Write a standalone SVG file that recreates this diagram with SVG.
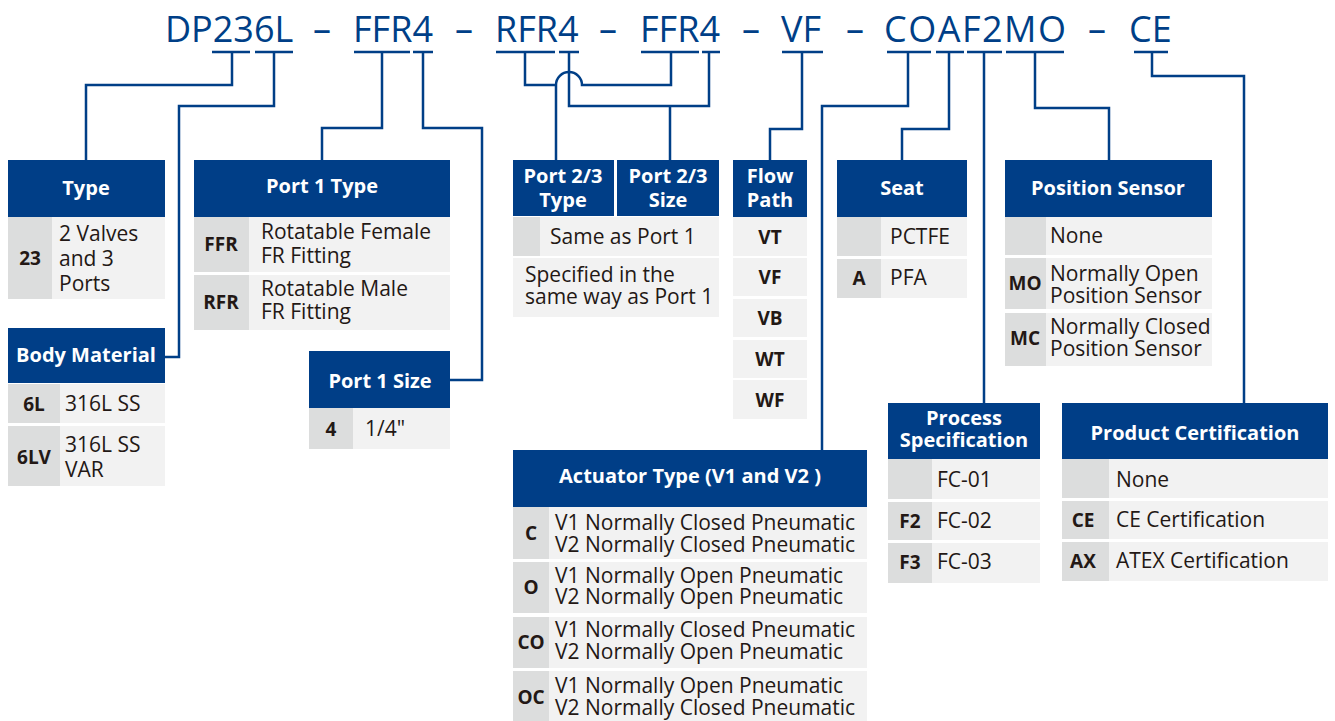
<svg xmlns="http://www.w3.org/2000/svg" width="1335" height="721" viewBox="0 0 1335 721">
<style>
.hd{fill:#003e87}
.rw{fill:#f2f2f2}
.cd{fill:#dcdddd}
.ht{font-family:"Open Sans","Noto Sans",sans-serif;font-weight:bold;font-size:20px;fill:#ffffff;text-anchor:middle}
.ct{font-family:"Open Sans","Noto Sans",sans-serif;font-weight:bold;font-size:19px;fill:#231815;text-anchor:middle}
.tx{font-family:"Open Sans","Noto Sans",sans-serif;font-size:21px;fill:#231815}
.ti{font-family:"Open Sans","Noto Sans",sans-serif;font-size:36px;fill:#003f87}
.ln{fill:none;stroke:#003f87;stroke-width:2.5}
</style>
<rect width="1335" height="721" fill="#ffffff"/>
<g id="title">
<text class="ti" x="165" y="42">DP236L</text>
<text class="ti" x="313" y="42">–</text>
<text class="ti" x="353" y="42">FFR4</text>
<text class="ti" x="455" y="42">–</text>
<text class="ti" x="495" y="42">RFR4</text>
<text class="ti" x="599" y="42">–</text>
<text class="ti" x="640" y="42">FFR4</text>
<text class="ti" x="742" y="42">–</text>
<text class="ti" x="781" y="42">VF</text>
<text class="ti" x="846" y="42">–</text>
<text class="ti" x="884" y="42" textLength="182">COAF2MO</text>
<text class="ti" x="1088" y="42">–</text>
<text class="ti" x="1129" y="42">CE</text>
</g>
<g id="connectors" class="ln">
<path d="M212,52H250M232,52V85H86V160"/>
<path d="M255,52H293M274,52V106H179V357H165"/>
<path d="M354,52H410M382,52V128H322V160"/>
<path d="M413,52H433M423,52V128H482V380H450"/>
<path d="M496,52H555M641,52H699M525,52V85H556A13,13 0 0 1 582,85H671V52M556,85V160"/>
<path d="M559,52H579M702,52H720M569,52V106H709V52M670,106V160"/>
<path d="M782,52H823M802,52V129H770V160"/>
<path d="M887,52H931M908,52V106H822V450"/>
<path d="M936,52H964M949,52V129H902V160"/>
<path d="M967,52H1002M984,52V403"/>
<path d="M1006,52H1064M1035,52V108H1109V160"/>
<path d="M1134,52H1168M1152,52V76H1244V403"/>
</g>
<g id="type">
<rect class="hd" x="8" y="160" width="157" height="57"/>
<rect class="rw" x="8" y="217" width="157" height="82"/>
<rect class="cd" x="8" y="217" width="44" height="82"/>
<text class="ht" x="86" y="195">Type</text>
<text class="ct" x="30" y="265">23</text>
<text class="tx" x="59" y="241">2 Valves<tspan x="59" dy="25">and 3</tspan><tspan x="59" dy="25">Ports</tspan></text>
</g>
<g id="body-material">
<rect class="hd" x="8" y="328" width="157" height="55"/>
<rect class="rw" x="8" y="384" width="157" height="39"/>
<rect class="cd" x="8" y="384" width="52" height="39"/>
<rect class="rw" x="8" y="426" width="157" height="60"/>
<rect class="cd" x="8" y="426" width="52" height="60"/>
<text class="ht" x="86" y="362">Body Material</text>
<text class="ct" x="34" y="411">6L</text>
<text class="tx" x="65" y="411">316L SS</text>
<text class="ct" x="34" y="464">6LV</text>
<text class="tx" x="65" y="452">316L SS<tspan x="65" dy="25">VAR</tspan></text>
</g>
<g id="port1-type">
<rect class="hd" x="194" y="160" width="256" height="57"/>
<rect class="rw" x="194" y="217" width="256" height="55"/>
<rect class="cd" x="194" y="217" width="55" height="55"/>
<rect class="rw" x="194" y="275" width="256" height="55"/>
<rect class="cd" x="194" y="275" width="55" height="55"/>
<text class="ht" x="322" y="193">Port 1 Type</text>
<text class="ct" x="221" y="251">FFR</text>
<text class="tx" x="261" y="239">Rotatable Female<tspan x="261" dy="24">FR Fitting</tspan></text>
<text class="ct" x="221" y="309">RFR</text>
<text class="tx" x="261" y="296">Rotatable Male<tspan x="261" dy="23">FR Fitting</tspan></text>
</g>
<g id="port1-size">
<rect class="hd" x="309" y="351" width="141" height="57"/>
<rect class="rw" x="309" y="408" width="141" height="41"/>
<rect class="cd" x="309" y="408" width="44" height="41"/>
<text class="ht" x="380" y="388">Port 1 Size</text>
<text class="ct" x="331" y="436">4</text>
<text class="tx" x="365" y="436">1/4"</text>
</g>
<g id="port23">
<rect class="hd" x="513" y="160" width="101" height="56"/>
<rect class="hd" x="617" y="160" width="102" height="56"/>
<text class="ht" x="563" y="183">Port 2/3<tspan x="563" dy="24">Type</tspan></text>
<text class="ht" x="668" y="183">Port 2/3<tspan x="668" dy="24">Size</tspan></text>
<rect class="rw" x="513" y="217" width="206" height="39"/>
<rect class="cd" x="513" y="217" width="27" height="39"/>
<text class="tx" x="550" y="244">Same as Port 1</text>
<rect class="rw" x="513" y="258" width="206" height="59"/>
<text class="tx" x="525" y="282">Specified in the<tspan x="525" dy="22">same way as Port 1</tspan></text>
</g>
<g id="flow-path">
<rect class="hd" x="733" y="160" width="74" height="57"/>
<text class="ht" x="770" y="183">Flow<tspan x="770" dy="24">Path</tspan></text>
<rect class="rw" x="733" y="217" width="74" height="39"/>
<rect class="rw" x="733" y="258" width="74" height="38"/>
<rect class="rw" x="733" y="299" width="74" height="38"/>
<rect class="rw" x="733" y="340" width="74" height="38"/>
<rect class="rw" x="733" y="380" width="74" height="39"/>
<text class="ct" x="770" y="244">VT</text>
<text class="ct" x="770" y="284">VF</text>
<text class="ct" x="770" y="325">VB</text>
<text class="ct" x="770" y="366">WT</text>
<text class="ct" x="770" y="407">WF</text>
</g>
<g id="seat">
<rect class="hd" x="837" y="160" width="130" height="57"/>
<text class="ht" x="902" y="195">Seat</text>
<rect class="rw" x="837" y="217" width="130" height="39"/>
<rect class="cd" x="837" y="217" width="44" height="39"/>
<text class="tx" x="890" y="244">PCTFE</text>
<rect class="rw" x="837" y="259" width="130" height="39"/>
<rect class="cd" x="837" y="259" width="44" height="39"/>
<text class="ct" x="859" y="285">A</text>
<text class="tx" x="890" y="285">PFA</text>
</g>
<g id="position-sensor">
<rect class="hd" x="1005" y="160" width="207" height="57"/>
<text class="ht" x="1108" y="195">Position Sensor</text>
<rect class="rw" x="1005" y="217" width="207" height="38"/>
<rect class="cd" x="1005" y="217" width="41" height="38"/>
<text class="tx" x="1050" y="243">None</text>
<rect class="rw" x="1005" y="258" width="207" height="51"/>
<rect class="cd" x="1005" y="258" width="41" height="51"/>
<text class="ct" x="1025" y="290">MO</text>
<text class="tx" x="1050" y="281">Normally Open<tspan x="1050" dy="22">Position Sensor</tspan></text>
<rect class="rw" x="1005" y="313" width="207" height="53"/>
<rect class="cd" x="1005" y="313" width="41" height="53"/>
<text class="ct" x="1025" y="345">MC</text>
<text class="tx" x="1050" y="334">Normally Closed<tspan x="1050" dy="22">Position Sensor</tspan></text>
</g>
<g id="actuator-type">
<rect class="hd" x="513" y="450" width="354" height="57"/>
<text class="ht" x="690" y="483">Actuator Type (V1 and V2 )</text>
<rect class="rw" x="513" y="507" width="354" height="52"/>
<rect class="cd" x="513" y="507" width="36" height="52"/>
<text class="ct" x="531" y="540">C</text>
<text class="tx" x="555" y="530">V1 Normally Closed Pneumatic<tspan x="555" dy="22">V2 Normally Closed Pneumatic</tspan></text>
<rect class="rw" x="513" y="562" width="354" height="51"/>
<rect class="cd" x="513" y="562" width="36" height="51"/>
<text class="ct" x="531" y="594">O</text>
<text class="tx" x="555" y="583">V1 Normally Open Pneumatic<tspan x="555" dy="21">V2 Normally Open Pneumatic</tspan></text>
<rect class="rw" x="513" y="617" width="354" height="51"/>
<rect class="cd" x="513" y="617" width="36" height="51"/>
<text class="ct" x="531" y="649">CO</text>
<text class="tx" x="555" y="637">V1 Normally Closed Pneumatic<tspan x="555" dy="22">V2 Normally Open Pneumatic</tspan></text>
<rect class="rw" x="513" y="671" width="354" height="50"/>
<rect class="cd" x="513" y="671" width="36" height="50"/>
<text class="ct" x="531" y="704">OC</text>
<text class="tx" x="555" y="693">V1 Normally Open Pneumatic<tspan x="555" dy="22">V2 Normally Closed Pneumatic</tspan></text>
</g>
<g id="process-specification">
<rect class="hd" x="888" y="403" width="152" height="56"/>
<text class="ht" x="964" y="425">Process<tspan x="964" dy="22">Specification</tspan></text>
<rect class="rw" x="888" y="459" width="152" height="40"/>
<rect class="cd" x="888" y="459" width="44" height="40"/>
<text class="tx" x="937" y="487">FC-01</text>
<rect class="rw" x="888" y="502" width="152" height="38"/>
<rect class="cd" x="888" y="502" width="44" height="38"/>
<text class="ct" x="910" y="528">F2</text>
<text class="tx" x="937" y="528">FC-02</text>
<rect class="rw" x="888" y="543" width="152" height="40"/>
<rect class="cd" x="888" y="543" width="44" height="40"/>
<text class="ct" x="910" y="569">F3</text>
<text class="tx" x="937" y="569">FC-03</text>
</g>
<g id="product-certification">
<rect class="hd" x="1062" y="403" width="266" height="56"/>
<text class="ht" x="1195" y="440">Product Certification</text>
<rect class="rw" x="1062" y="459" width="266" height="39"/>
<rect class="cd" x="1062" y="459" width="47" height="39"/>
<text class="tx" x="1116" y="487">None</text>
<rect class="rw" x="1062" y="501" width="266" height="38"/>
<rect class="cd" x="1062" y="501" width="47" height="38"/>
<text class="ct" x="1083" y="527">CE</text>
<text class="tx" x="1116" y="527">CE Certification</text>
<rect class="rw" x="1062" y="542" width="266" height="39"/>
<rect class="cd" x="1062" y="542" width="47" height="39"/>
<text class="ct" x="1083" y="568">AX</text>
<text class="tx" x="1116" y="568">ATEX Certification</text>
</g>
</svg>
